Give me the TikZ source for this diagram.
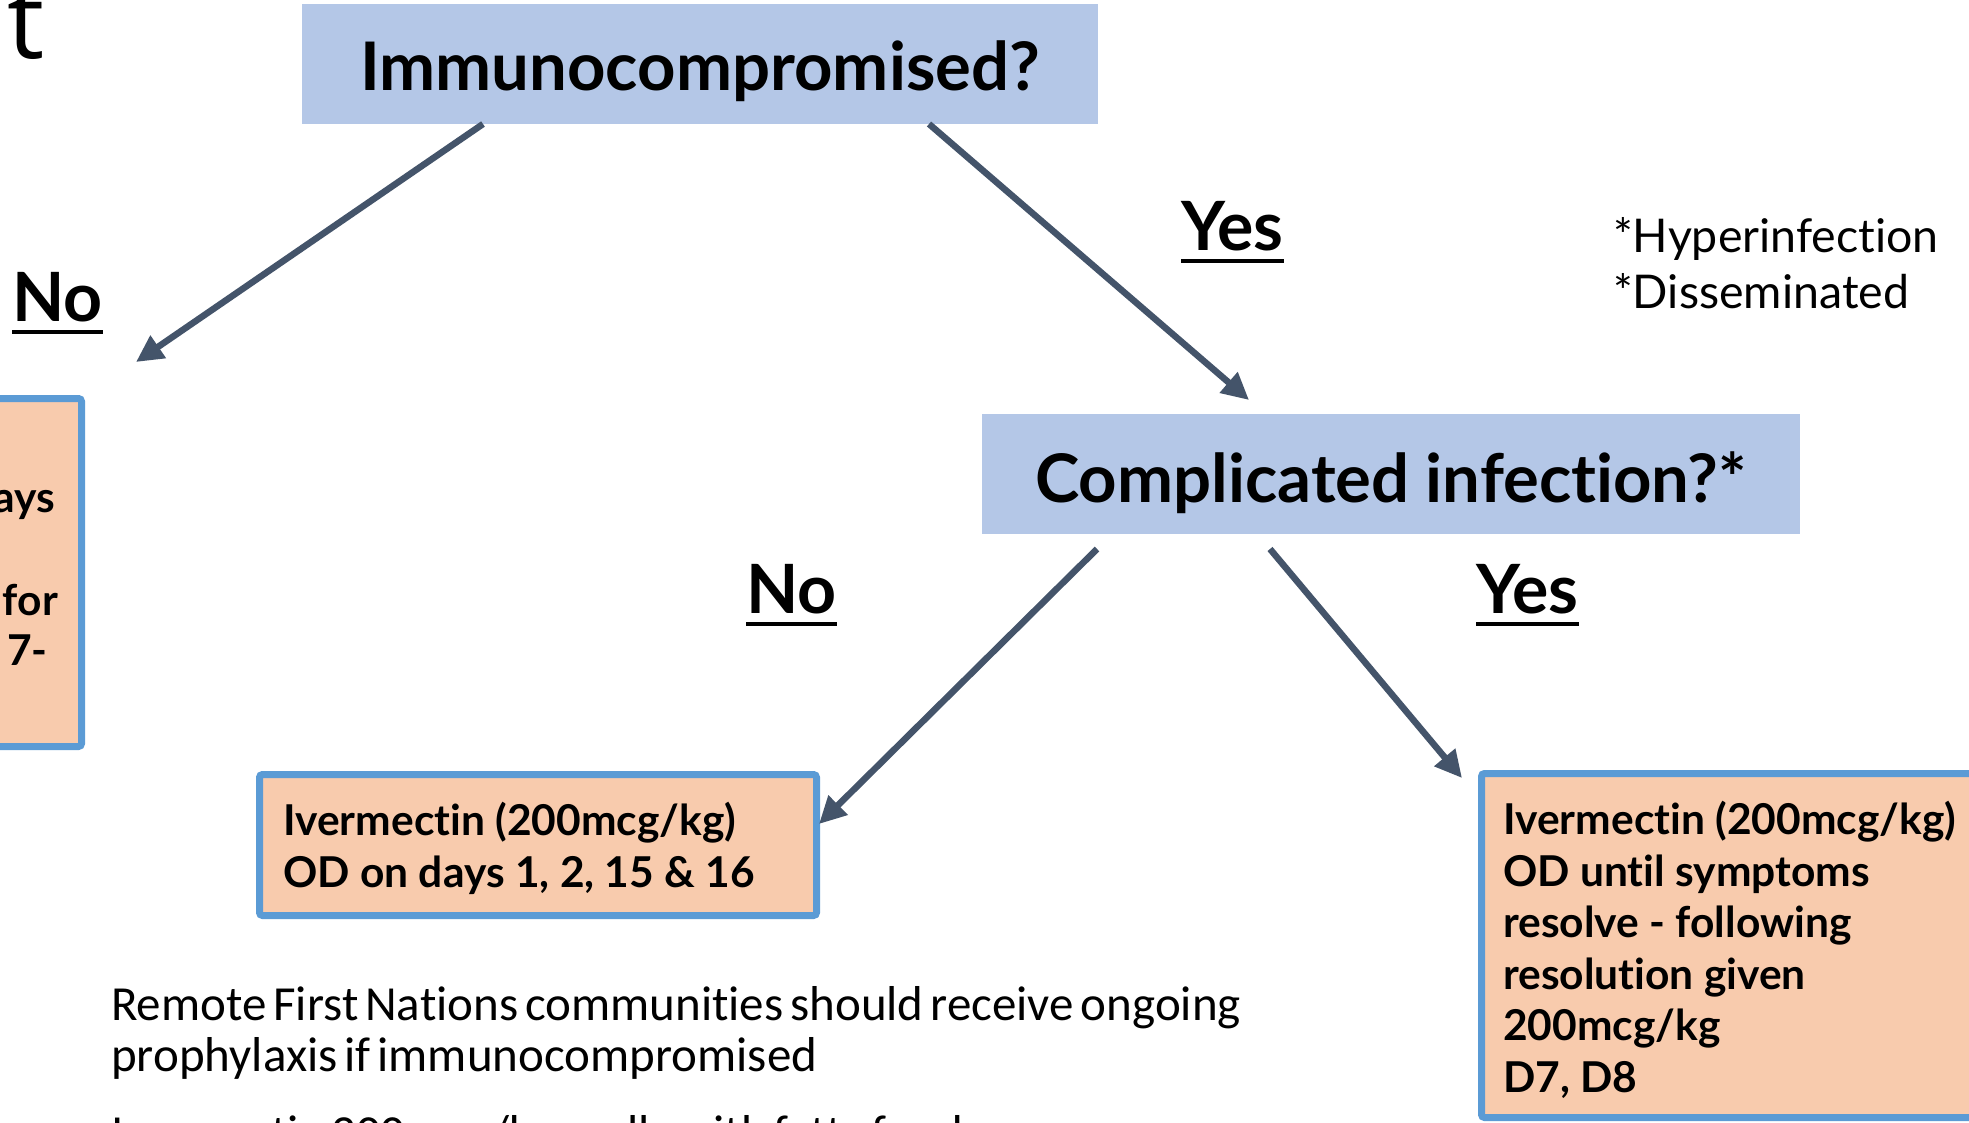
\documentclass[tikz,border=0pt]{standalone}
\usepackage{fontspec}
\setmainfont{Lato}[Ligatures=NoCommon]
\newfontfamily\calibfont{Carlito}[Ligatures=NoCommon]
\newfontfamily\osansfont{Open Sans}
\usetikzlibrary{arrows.meta}
\definecolor{qblue}{HTML}{B4C7E7}
\definecolor{tfill}{HTML}{F8CBAD}
\definecolor{tborder}{HTML}{5B9BD5}
\definecolor{arrcol}{HTML}{44546A}
\newcommand\tightsp{\spaceskip=0.14em plus 0.05em minus 0.02em\relax}
\begin{document}
\begin{tikzpicture}[x=1pt,y=-1pt,
  qbox/.style={fill=qblue, draw=none, inner sep=0pt, outer sep=0pt,
    font=\fontsize{67}{80}\selectfont\bfseries},
  tbox/.style={fill=tfill, draw=tborder, line width=7pt, rounded corners=3pt,
    inner sep=0pt, outer sep=0pt},
  btxt/.style={font=\fontsize{42.5}{51.5}\selectfont\bfseries, align=left,
    anchor=base west, inner sep=0pt},
  frag/.style={font=\fontsize{42.5}{51.5}\selectfont\bfseries, anchor=base east, inner sep=0pt},
  lab/.style={font=\fontsize{68}{80}\selectfont\bfseries, anchor=base west, inner sep=0pt},
  ul/.style={line width=4pt},
  arr/.style={draw=arrcol, line width=6.5pt, -{Triangle[length=27pt,width=26pt]}},
  note/.style={font=\fontsize{46.5}{56}\selectfont, align=left, anchor=base west, inner sep=0pt},
  para/.style={font=\calibfont\fontsize{49}{51}\selectfont,
    align=left, anchor=base west, inner sep=0pt}
]
\useasboundingbox (0,0) rectangle (1969,1122);
\clip (0,0) rectangle (1969,1122);
\fill[white] (0,0) rectangle (1969,1122);

% title fragment
\node[font=\osansfont\fontsize{105}{105}\selectfont, anchor=base west, inner sep=0pt] (title) at (7,58) {t};

% question boxes
\node[qbox, minimum width=796pt, minimum height=120pt, text height=52pt, text depth=0pt] (immuno) at (700,64) {Immunocompromised?};
\node[qbox, minimum width=818pt, minimum height=120pt, text height=56pt, text depth=0pt] (compl) at (1391,474) {Complicated infection?*};

% treatment boxes
\node[tbox, minimum width=131.5pt, minimum height=348pt] (lbox) at (15.75,572.5) {};
\node[frag] (lf1) at (55,512) {days};
\node[frag] (lf2) at (58,615) {for};
\node[frag] (lf3) at (48,665) {7-};

\node[tbox, minimum width=557pt, minimum height=141pt] (mbox) at (538,845) {};
\node[btxt] (mtext) at (283,887) {Ivermectin (200mcg/kg)\\OD on days 1, 2, 15 \& 16};

\node[tbox, minimum width=518.5pt, minimum height=344pt] (rbox) at (1740.75,945.5) {};
\node[btxt] (rtext) at (1503,1092) {Ivermectin (200mcg/kg)\\OD until symptoms\\resolve - following\\resolution given\\200mcg/kg\\D7, D8};

% labels
\node[lab] (no1) at (12,321) {No};
\draw[ul] ([yshift=-11pt]no1.base west) -- ([yshift=-11pt]no1.base east);
\node[lab] (yes1) at (1181,250) {Yes};
\draw[ul] ([yshift=-11pt]yes1.base west) -- ([yshift=-11pt]yes1.base east);
\node[lab] (no2) at (746,613) {No};
\draw[ul] ([yshift=-11pt]no2.base west) -- ([yshift=-11pt]no2.base east);
\node[lab] (yes2) at (1476,613) {Yes};
\draw[ul] ([yshift=-11pt]yes2.base west) -- ([yshift=-11pt]yes2.base east);

\node[note] (notes) at (1613,308) {*Hyperinfection\\*Disseminated};

% paragraph
\node[para] (remote) at (111,1071) {\tightsp Remote First Nations communities should receive ongoing\\\tightsp prophylaxis if immunocompromised};
\node[para] (ivline) at (111,1149) {\tightsp Ivermectin 200mcg/kg orally with fatty food};

% connectors
\coordinate (a1s) at (483,124);
\coordinate (a1e) at (136,362);
\coordinate (a2s) at (929,124);
\coordinate (a2e) at (1249,400);
\coordinate (a3s) at (1097,549);
\coordinate (a3e) at (819,824);
\coordinate (a4s) at (1270,549);
\coordinate (a4e) at (1462,778);
\draw[arr] (a1s) -- (a1e);
\draw[arr] (a2s) -- (a2e);
\draw[arr] (a3s) -- (a3e);
\draw[arr] (a4s) -- (a4e);
\end{tikzpicture}
\end{document}
